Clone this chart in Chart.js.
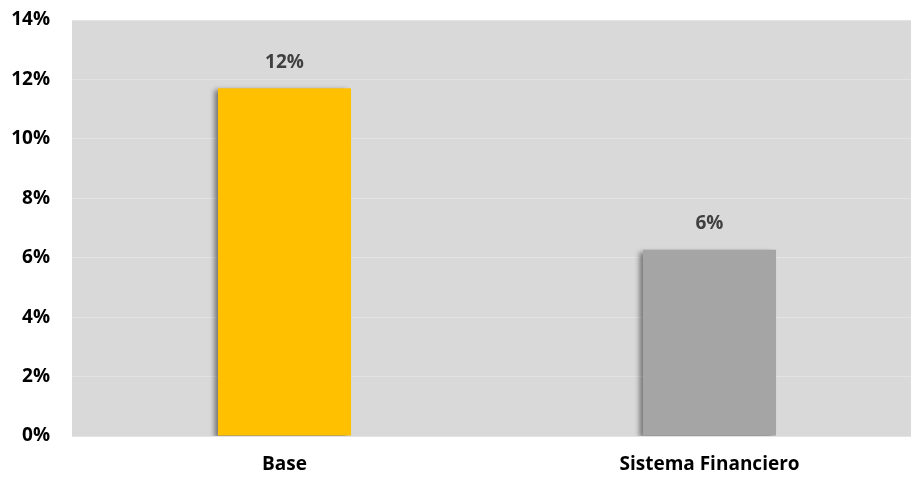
<!DOCTYPE html>
<html>
<head>
<meta charset="utf-8">
<script src="https://cdn.jsdelivr.net/npm/chart.js@4/dist/chart.umd.min.js"></script>
<style>
  html, body { margin: 0; padding: 0; background: #fff; overflow: hidden; }
  #wrap { width: 922px; height: 479px; }
</style>
</head>
<body>
<div id="wrap"><canvas id="chart" width="922" height="479"></canvas></div>
<script>
const categories = ["Base", "Sistema Financiero"];
const values = [11.7, 6.27];
const barColors = ["#FFC000", "#A5A5A5"];
const yTicks = [0, 2, 4, 6, 8, 10, 12, 14];

const plotBackground = {
  id: "plotBackground",
  beforeDraw(chart) {
    const { ctx, chartArea } = chart;
    ctx.save();
    ctx.fillStyle = "#d9d9d9";
    ctx.fillRect(chartArea.left, chartArea.top, chartArea.right - chartArea.left, chartArea.bottom - chartArea.top);
    ctx.restore();
  }
};

// soft shadow on the left/bottom of each bar
const barShadow = {
  id: "barShadow",
  beforeDatasetsDraw(chart) {
    const ctx = chart.ctx;
    ctx.save();
    ctx.shadowColor = "rgba(0,0,0,0.45)";
    ctx.shadowOffsetX = -4;
    ctx.shadowOffsetY = 2;
    ctx.shadowBlur = 5;
  },
  afterDatasetsDraw(chart) {
    chart.ctx.restore();
  }
};

const valueLabels = {
  id: "valueLabels",
  afterDraw(chart) {
    const ctx = chart.ctx;
    const meta = chart.getDatasetMeta(0);
    ctx.save();
    ctx.fillStyle = "#404040";
    ctx.font = "bold 19px 'Open Sans', sans-serif";
    ctx.textAlign = "center";
    ctx.textBaseline = "middle";
    meta.data.forEach((bar, i) => {
      ctx.fillText(Math.round(values[i]) + "%", bar.x, bar.y - 26);
    });
    ctx.restore();
  }
};

new Chart(document.getElementById("chart"), {
  type: "bar",
  data: {
    labels: categories,
    datasets: [{
      data: values,
      backgroundColor: barColors,
      borderWidth: 0,
      categoryPercentage: 1,
      barPercentage: 0.313
    }]
  },
  options: {
    responsive: false,
    animation: false,
    layout: { padding: { top: 20, left: 0, right: 0, bottom: 0 } },
    plugins: { legend: { display: false }, tooltip: { enabled: false } },
    scales: {
      x: {
        grid: { display: false, drawTicks: false },
        border: { display: false },
        ticks: { color: "#000", font: { family: "'Open Sans', sans-serif", size: 19, weight: "bold" }, padding: 17 },
        afterFit(scale) { scale.height = 43; }
      },
      y: {
        min: 0,
        max: 14,
        afterBuildTicks(scale) { scale.ticks = yTicks.map(v => ({ value: v })); },
        grid: { color: "#e3e3e3", drawTicks: false },
        border: { display: false },
        ticks: {
          color: "#000",
          font: { family: "'Open Sans', sans-serif", size: 19, weight: "bold" },
          padding: 22,
          callback: v => v + "%"
        },
        afterFit(scale) {
          scale.width = 72;
          scale.paddingTop = 0;
          scale.paddingBottom = 0;
        }
      }
    }
  },
  plugins: [plotBackground, barShadow, valueLabels]
});
</script>
</body>
</html>
